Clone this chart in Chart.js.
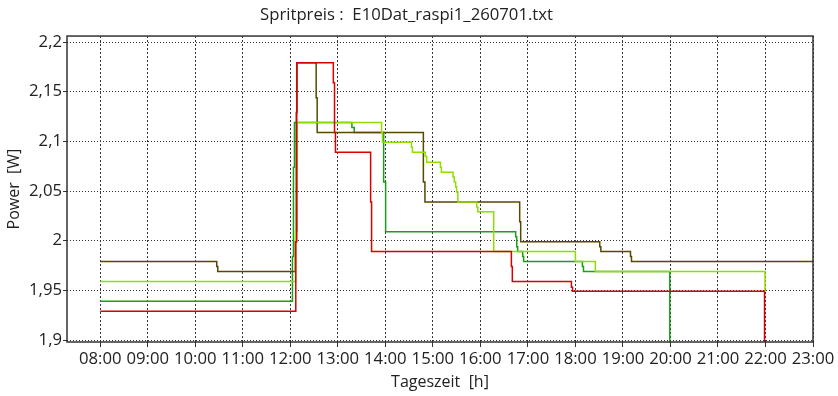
<!DOCTYPE html>
<html>
<head>
<meta charset="utf-8">
<script src="https://cdn.jsdelivr.net/npm/chart.js@4/dist/chart.umd.min.js"></script>
<style>
  body { margin: 0; background: #fff; }
  #wrap { width: 838px; height: 396px; }
</style>
</head>
<body>
<div id="wrap"><canvas id="chart" width="838" height="396"></canvas></div>
<script>
// x values are hours of the day (decimal), y values are prices
const xTicks = [8, 9, 10, 11, 12, 13, 14, 15, 16, 17, 18, 19, 20, 21, 22, 23];
const xTickLabels = ["08:00", "09:00", "10:00", "11:00", "12:00", "13:00", "14:00", "15:00",
  "16:00", "17:00", "18:00", "19:00", "20:00", "21:00", "22:00", "23:00"];
const yTicks = [1.9, 1.95, 2, 2.05, 2.1, 2.15, 2.2];
const yTickLabels = ["1,9", "1,95", "2", "2,05", "2,1", "2,15", "2,2"];

const redTimes = [8.0, 12.115, 12.135, 12.905, 12.93, 12.95, 13.69, 13.71, 16.652, 16.672, 17.916, 17.94, 21.98];
const redPrices = [1.929, 1.999, 2.179, 2.159, 2.109, 2.089, 2.039, 1.989, 1.974, 1.959, 1.953, 1.949, 1.85];

const limeTimes = [8.0, 12.11, 12.14, 13.92, 13.94, 14.55, 14.57, 14.84, 14.87, 15.158, 15.18, 15.425, 15.45,
  15.48, 15.5, 15.525, 15.923, 15.945, 16.28, 18.0, 18.42, 21.99];
const limePrices = [1.959, 2.009, 2.119, 2.109, 2.099, 2.094, 2.089, 2.085, 2.079, 2.074, 2.069, 2.064, 2.059,
  2.054, 2.049, 2.039, 2.034, 2.029, 1.989, 1.979, 1.969, 1.949];

const oliveTimes = [8.0, 10.452, 10.473, 12.105, 12.125, 12.14, 12.544, 12.565, 14.8, 14.833, 16.827, 16.848,
  18.512, 18.535, 19.159, 19.18, 23.0];
const olivePrices = [1.979, 1.974, 1.969, 1.999, 2.129, 2.179, 2.144, 2.109, 2.059, 2.039, 2.019, 1.999,
  1.994, 1.989, 1.984, 1.979, 1.979];

const greenTimes = [8.0, 12.045, 12.066, 12.087, 13.296, 13.345, 13.964, 14.006, 16.743, 16.765, 16.785, 16.89,
  16.91, 18.147, 18.17, 19.986];
const greenPrices = [1.939, 1.984, 2.074, 2.119, 2.114, 2.109, 2.059, 2.009, 2.004, 1.994, 1.989, 1.984,
  1.979, 1.974, 1.969, 1.85];

function points(times, prices) {
  return times.map((t, i) => ({ x: t, y: prices[i] }));
}

function series(times, prices, color) {
  return {
    data: points(times, prices),
    borderColor: color,
    borderWidth: 1.5,
    stepped: true,
    pointRadius: 0,
    fill: false
  };
}

const labelFont = { family: "'Open Sans', sans-serif", size: 16.7 };
const titleFont = { family: "'Open Sans', sans-serif", size: 16 };

// solid frame round the plot area
const frame = {
  id: "frame",
  afterDraw(chart) {
    const { ctx, chartArea: a } = chart;
    ctx.save();
    ctx.strokeStyle = "#333";
    ctx.lineWidth = 1.5;
    ctx.strokeRect(a.left, a.top, a.right - a.left, a.bottom - a.top);
    ctx.restore();
  }
};

new Chart(document.getElementById("chart"), {
  type: "line",
  data: {
    datasets: [
      series(redTimes, redPrices, "#d80000"),
      series(limeTimes, limePrices, "#8ede00"),
      series(oliveTimes, olivePrices, "#584800"),
      series(greenTimes, greenPrices, "#18a018")
    ]
  },
  options: {
    responsive: false,
    animation: false,
    layout: { padding: { left: 0, right: 25, top: 0, bottom: 0 } },
    plugins: {
      legend: { display: false },
      tooltip: { enabled: false },
      title: {
        display: true,
        text: "Spritpreis :  E10Dat_raspi1_260701.txt",
        color: "#222",
        font: { ...labelFont, weight: "normal" },
        padding: { top: 5, bottom: 11 }
      }
    },
    scales: {
      x: {
        type: "linear",
        min: 7.3,
        max: 23.0,
        afterBuildTicks: s => { s.ticks = xTicks.map(v => ({ value: v })); },
        afterFit: s => { s.height = 54; },
        ticks: {
          color: "#222",
          font: labelFont,
          padding: 2,
          maxRotation: 0,
          autoSkip: false,
          callback: v => xTickLabels[xTicks.indexOf(v)]
        },
        grid: { color: "#333", lineWidth: 1, tickLength: 5, tickColor: "#333" },
        border: { display: false, dash: [2, 2] },
        title: {
          display: true,
          text: "Tageszeit  [h]",
          color: "#222",
          font: titleFont,
          padding: { top: 0, bottom: 4 }
        }
      },
      y: {
        min: 1.898,
        max: 2.206,
        afterBuildTicks: s => { s.ticks = yTicks.map(v => ({ value: v })); },
        afterFit: s => { s.width = 67; },
        ticks: {
          color: "#222",
          font: labelFont,
          padding: 1,
          callback: v => yTickLabels[yTicks.indexOf(v)]
        },
        grid: { color: "#333", lineWidth: 1, tickLength: 4, tickColor: "#333" },
        border: { display: false, dash: [1, 2] },
        title: {
          display: true,
          text: "Power  [W]",
          color: "#222",
          font: titleFont,
          padding: { top: 5, bottom: 0 }
        }
      }
    }
  },
  plugins: [frame]
});
</script>
</body>
</html>
